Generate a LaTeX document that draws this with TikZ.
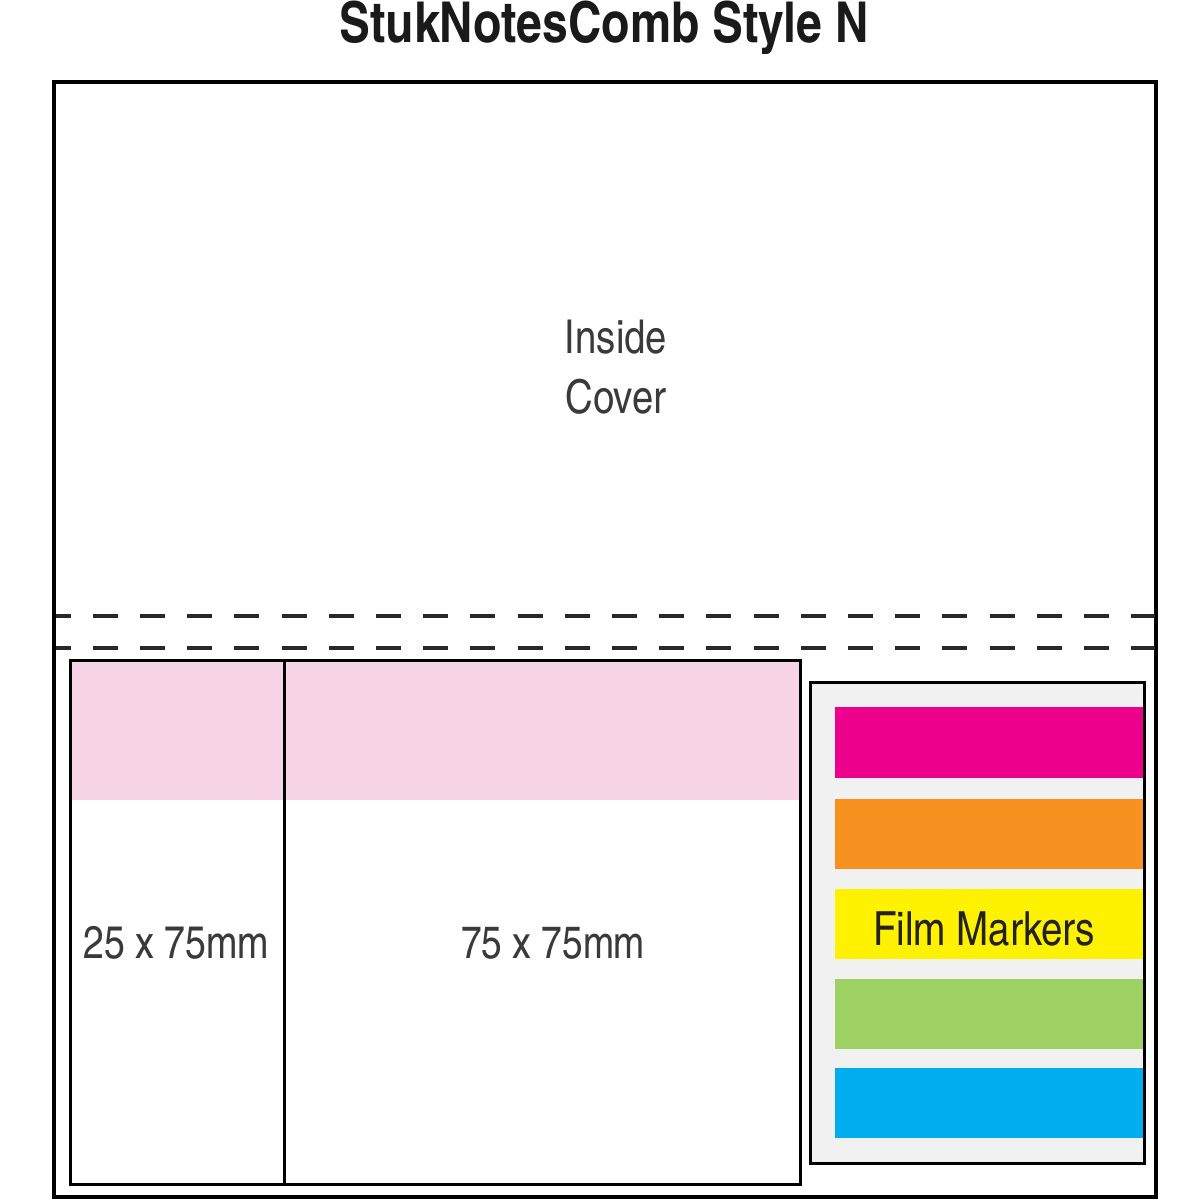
\documentclass[tikz,border=0pt]{standalone}
\usepackage{fontspec}
\setmainfont{texgyreheroscn}[Extension=.otf, UprightFont=*-regular, BoldFont=*-bold]
\usepackage{tikz}
\tikzset{every picture/.style={line width=0.75pt}}

\begin{document}
\begin{tikzpicture}[x=0.75pt,y=0.75pt,yscale=-1,xscale=1]
\useasboundingbox (0,0) rectangle (1200,1200);

%Shape: Rectangle [outer page]
\draw  [line width=2.4]  (54,82) -- (1156,82) -- (1156,1197) -- (54,1197) -- cycle ;
%Straight Lines [fold upper]
\draw  [color={rgb, 255:red, 40; green, 40; blue, 40 }  ,line width=2.4, dash pattern={on 18.75pt off 16.65pt}, dash phase=7.5pt]  (55.5,616) -- (1154.5,616) ;
%Straight Lines [fold lower]
\draw  [color={rgb, 255:red, 40; green, 40; blue, 40 }  ,line width=2.4, dash pattern={on 18.75pt off 16.65pt}, dash phase=7.5pt]  (55.5,648) -- (1154.5,648) ;

%Shape: Rectangle [pink band]
\fill  [color={rgb, 255:red, 248; green, 213; blue, 230 }  ]  (70,660) -- (800,660) -- (800,800) -- (70,800) -- cycle ;
%Shape: Rectangle [note pads]
\draw  [line width=2.25]  (70,660) -- (800,660) -- (800,1184) -- (70,1184) -- cycle ;
%Straight Lines [pad divider]
\draw  [line width=2.25]  (284,660) -- (284,1184) ;

%Shape: Rectangle [marker tray]
\draw  [line width=2.25, fill={rgb, 255:red, 241; green, 241; blue, 241 }  ]  (810,682) -- (1144,682) -- (1144,1163) -- (810,1163) -- cycle ;
%Shape: Rectangle [magenta marker]
\fill  [color={rgb, 255:red, 236; green, 0; blue, 140 }  ]  (835,707) -- (1142.5,707) -- (1142.5,778) -- (835,778) -- cycle ;
%Shape: Rectangle [orange marker]
\fill  [color={rgb, 255:red, 247; green, 145; blue, 32 }  ]  (835,799) -- (1142.5,799) -- (1142.5,869) -- (835,869) -- cycle ;
%Shape: Rectangle [yellow marker]
\fill  [color={rgb, 255:red, 255; green, 242; blue, 0 }  ]  (835,889) -- (1142.5,889) -- (1142.5,959) -- (835,959) -- cycle ;
%Shape: Rectangle [green marker]
\fill  [color={rgb, 255:red, 158; green, 208; blue, 100 }  ]  (835,979) -- (1142.5,979) -- (1142.5,1049) -- (835,1049) -- cycle ;
%Shape: Rectangle [blue marker]
\fill  [color={rgb, 255:red, 0; green, 174; blue, 239 }  ]  (835,1068) -- (1142.5,1068) -- (1142.5,1138) -- (835,1138) -- cycle ;

% Text Node
\draw (604,28) node (title) [anchor=center][inner sep=0.75pt]  [font=\fontsize{42.3}{50}\bfseries,color={rgb, 255:red, 26; green, 26; blue, 26 }  ]  {StukNotesComb Style N};
% Text Node
\draw (616,337) node (inside) [anchor=center][inner sep=0.75pt]  [font=\fontsize{35}{42}\selectfont,color={rgb, 255:red, 58; green, 58; blue, 58 }  ]  {Inside};
% Text Node
\draw (616,397) node (cover) [anchor=center][inner sep=0.75pt]  [font=\fontsize{35}{42}\selectfont,color={rgb, 255:red, 58; green, 58; blue, 58 }  ]  {Cover};
% Text Node
\draw (176,943) node (small pad) [anchor=center][inner sep=0.75pt]  [font=\fontsize{34.3}{40}\selectfont,color={rgb, 255:red, 58; green, 58; blue, 58 }  ]  {25 x 75mm};
% Text Node
\draw (553,943) node (large pad) [anchor=center][inner sep=0.75pt]  [font=\fontsize{34}{40}\selectfont,color={rgb, 255:red, 58; green, 58; blue, 58 }  ]  {75 x 75mm};
% Text Node
\draw (984,929) node (markers) [anchor=center][inner sep=0.75pt]  [font=\fontsize{35.3}{42}\selectfont,color={rgb, 255:red, 34; green, 34; blue, 34 }  ]  {Film Markers};

\end{tikzpicture}
\end{document}
